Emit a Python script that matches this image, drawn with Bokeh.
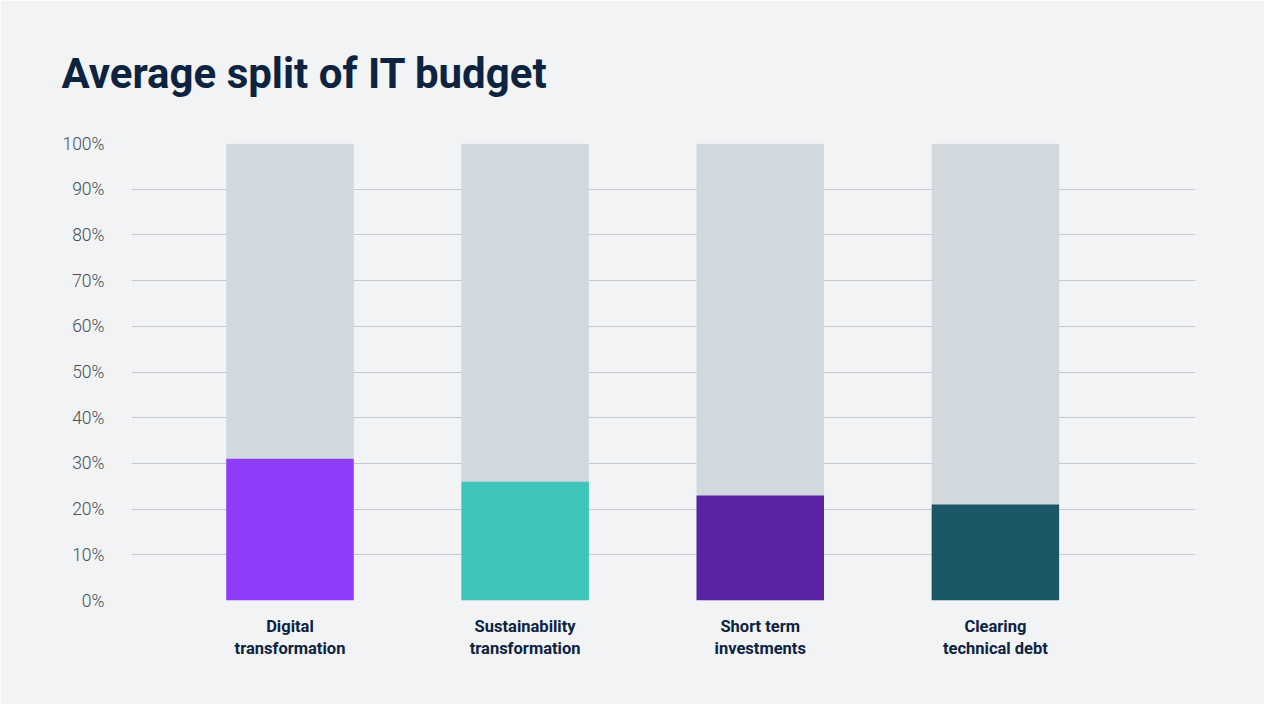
from bokeh.plotting import figure
from bokeh.models import FixedTicker, Title, ColumnDataSource, Range1d
from bokeh.embed import file_html
from bokeh.resources import INLINE

categories = ["Digital\ntransformation", "Sustainability\ntransformation",
              "Short term\ninvestments", "Clearing\ntechnical debt"]
values = [31, 26, 23, 21]
totals = [100, 100, 100, 100]
colors = ["#8e3cf7", "#3ec4b8", "#5b22a6", "#1b5667"]
y_ticks = [0, 10, 20, 30, 40, 50, 60, 70, 80, 90, 100]

BG = "#f1f3f5"
xs = list(range(len(categories)))

W, H = 1264, 704
FL, FR, FT, FB = 131, 69, 143, 104

p = figure(width=W, height=H, output_backend="svg", toolbar_location=None,
           x_range=Range1d(-0.674, 3.851), y_range=Range1d(0, 100))
p.background_fill_color = BG
p.border_fill_color = BG
p.outline_line_color = None
p.min_border_left = FL
p.min_border_right = FR
p.min_border_top = FT
p.min_border_bottom = FB

src = ColumnDataSource(dict(x=xs, v=values, t=totals, c=colors))
p.vbar(x="x", top="t", bottom=0, width=0.542, source=src, fill_color="#d1d9df", line_color=None)
p.vbar(x="x", top="v", bottom=0, width=0.542, source=src, fill_color="c", line_color=None)

p.yaxis.ticker = FixedTicker(ticks=y_ticks)
p.yaxis.major_label_overrides = {t: f"{t}%" for t in y_ticks}
p.yaxis.axis_line_color = None
p.yaxis.major_tick_line_color = None
p.yaxis.minor_tick_line_color = None
p.yaxis.major_label_text_font = "Roboto Light, Roboto"
p.yaxis.major_label_text_font_style = "normal"
p.yaxis.major_label_text_font_size = "17.5px"
p.yaxis.major_label_text_color = "#4a4f56"
p.yaxis.major_label_standoff = 21

p.xaxis.ticker = FixedTicker(ticks=xs)
p.xaxis.major_label_overrides = {i: c for i, c in zip(xs, categories)}
p.xaxis.axis_line_color = None
p.xaxis.major_tick_line_color = None
p.xaxis.minor_tick_line_color = None
p.xaxis.major_label_text_font = "Roboto"
p.xaxis.major_label_text_font_style = "bold"
p.xaxis.major_label_text_font_size = "16.5px"
p.xaxis.major_label_text_color = "#0d2340"
p.xaxis.major_label_standoff = 10

p.xgrid.grid_line_color = None
p.ygrid.ticker = FixedTicker(ticks=y_ticks)
p.ygrid.grid_line_color = "#c3c9d1"
p.ygrid.grid_line_width = 1.2
p.ygrid.level = "underlay"

title = Title(text="Average split of IT budget", align="left", offset=61 - FL,
              standoff=91, text_font="Roboto", text_font_style="bold",
              text_font_size="42px", text_color="#0d2340")
p.add_layout(title, "above")

open("out.html", "w").write(file_html(p, INLINE))
